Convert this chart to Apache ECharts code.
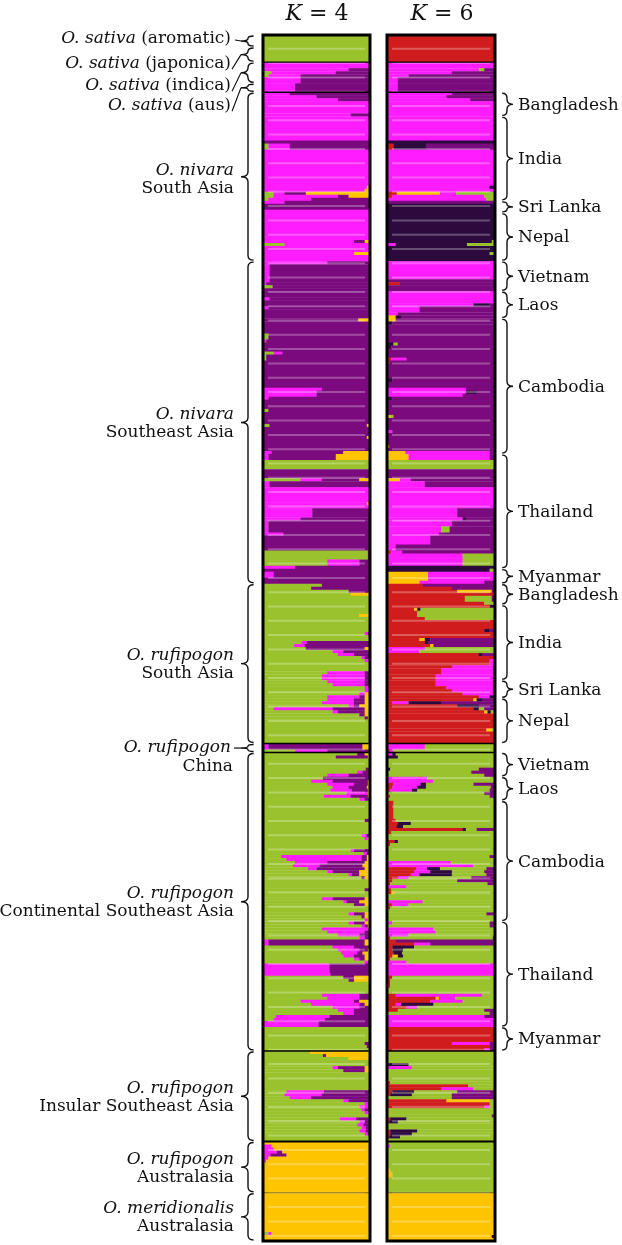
<!DOCTYPE html>
<html><head><meta charset="utf-8">
<script src="https://cdn.jsdelivr.net/npm/echarts@6/dist/echarts.min.js"></script>
<style>html,body{margin:0;padding:0;background:#fff}#c{width:622px;height:1245px}</style>
</head><body><div id="c"></div>
<script>
// ---------------- DATA ----------------
// individuals are indexed 0..400 from top to bottom
const groupLabels = [
 ['{i|O. sativa} (aromatic)'],
 ['{i|O. sativa} (japonica)'],
 ['{i|O. sativa} (indica)'],
 ['{i|O. sativa} (aus)'],
 ['{i|O. nivara}','South Asia'],
 ['{i|O. nivara}','Southeast Asia'],
 ['{i|O. rufipogon}','South Asia'],
 ['{i|O. rufipogon}','China'],
 ['{i|O. rufipogon}','Continental Southeast Asia'],
 ['{i|O. rufipogon}','Insular Southeast Asia'],
 ['{i|O. rufipogon}','Australasia'],
 ['{i|O. meridionalis}','Australasia']
];
const groupBounds = [0,4,9,16,19,75,182,235,238,337,367,384,400];
const countryNames = ['Bangladesh','India','Sri Lanka','Nepal','Vietnam','Laos','Cambodia','Thailand','Myanmar',
                      'Bangladesh','India','Sri Lanka','Nepal','Vietnam','Laos','Cambodia','Thailand','Myanmar'];
const countryStart = [19,27,55,59,75,85,94,139,177,182,189,214,220,238,246,254,294,329];
const countryEnd   = [27,55,59,75,85,94,139,177,182,189,214,220,235,246,254,294,329,337];
const dividers = [9,19,235,238,337,367,384];

// K = 4 rows: [count, green, magenta, purple, yellow]
const k4Sativa = [[4,100,0,0,0],[5,100,0,0,0],
 [2,0,100,0,0],[1,0,80,20,0],[1,8,60,32,0],[1,5,30,65,0],[2,0,35,65,0],
 [3,0,30,70,0]];
const k4NivaraSouth = [
 [1,0,25,75,0],[1,0,50,50,0],[1,0,70,30,0],[4,0,100,0,0],[1,0,82,18,0],
 [8,0,100,0,0],[1,0,0,100,0],[2,5,20,75,0],[12,0,100,0,0],[1,0,97,0,3],[1,0,95,0,5],[1,10,10,20,60],[1,10,60,10,20],[1,5,40,55,0],
 [1,0,20,80,0],[2,0,0,100,0],[1,0,100,0,0],
 [9,0,100,0,0],[1,0,85,10,5],[1,20,80,0,0],[2,0,100,0,0],[1,0,85,0,15],[2,0,100,0,0]];
const k4NivaraSE = [
 [1,0,60,40,0],[6,0,6,94,0],[1,0,3,97,0],[1,9,0,91,0],[1,0,0,100,0],
 [2,0,0,100,0],[1,0,6,94,0],[2,0,0,100,0],[1,0,5,95,0],[3,0,0,100,0],
 [1,0,0,89,11],[4,0,0,100,0],[2,5,0,95,0],[1,0,3,97,0],[3,0,0,100,0],[1,10,8,82,0],[2,3,0,97,0],[9,0,0,100,0],[1,0,55,45,0],[2,0,50,50,0],[1,0,5,95,0],[3,0,0,100,0],[1,5,0,95,0],[4,0,0,100,0],[1,6,0,91,3],[3,0,0,100,0],[1,0,0,97,3],[4,0,0,100,0],[1,0,8,67,25],
 [2,0,5,63,32],[3,100,0,0,0],[3,0,0,100,0],[1,35,20,35,10],[2,0,6,94,0],[5,0,100,0,0],[1,0,97,0,3],[1,0,100,0,0],[3,0,46,54,0],[1,0,35,65,0],[4,0,5,95,0],[1,0,19,81,0],[5,0,0,100,0],[3,98,0,2,0],[2,60,30,10,0],[1,0,30,70,0],
 [1,0,0,100,0],[2,0,10,90,0],[2,0,0,100,0]];
const k4RufiSouth = [
 [1,55,0,45,0],[1,45,0,55,0],[1,80,0,20,0],[1,82,0,0,18],[3,100,0,0,0],
 [3,100,0,0,0],[1,90,0,0,10],[5,100,0,0,0],[1,95,3,2,0],[2,100,0,0,0],[1,36,5,59,0],[1,29,10,61,0],[1,40,0,55,5],[1,65,10,25,0],[1,70,15,15,0],[1,92,3,5,0],[1,95,5,0,0],[3,100,0,0,0],[1,60,35,5,0],[2,55,40,5,0],
 [1,60,35,5,0],[1,65,30,5,0],[2,95,5,0,0],[1,90,5,0,5],[1,60,30,5,5],
 [1,60,25,10,5],[1,55,30,10,5],[1,80,5,5,10],[1,10,55,30,5],[1,65,5,25,5],[1,90,0,5,5],[1,95,0,3,2],[8,100,0,0,0]];
const k4China = [[2,0,5,88,7],[1,30,30,40,0]];
const k4RufiCont = [
 [1,88,0,7,5],[1,68,0,30,2],[3,100,0,0,0],[1,96,0,4,0],[1,88,5,7,0],[1,60,20,20,0],
 [1,56,0,44,0],[1,45,20,33,2],[1,60,25,13,2],[1,65,15,17,3],[1,63,20,15,2],[1,78,20,0,2],[1,57,25,16,2],[1,90,5,5,0],
 [6,100,0,0,0],[1,95,0,5,0],[4,100,0,0,0],[1,92,5,3,0],[1,95,3,0,2],[3,100,0,0,0],[1,82,3,15,0],[1,94,3,3,0],[1,17,75,5,3],[1,22,70,5,3],[1,30,30,35,5],[1,28,25,40,7],[1,42,8,45,5],[1,60,5,25,10],[1,80,3,7,10],[1,92,0,3,5],[3,98,0,0,2],[1,95,0,5,0],[2,100,0,0,0],[1,55,10,30,5],[1,75,3,12,10],[1,85,0,10,5],[2,100,0,0,0],[1,80,5,10,5],[1,92,0,3,5],[1,95,3,0,2],
 [1,80,5,10,5],[1,92,3,3,2],[1,55,45,0,0],[1,60,35,5,0],[1,70,20,10,0],[1,90,5,5,0],[2,0,5,90,5],[1,65,20,15,0],[1,70,20,8,2],[1,73,15,5,7],[1,75,10,10,5],[1,85,5,5,5],[1,95,3,2,0],[3,0,62,38,0],[1,0,63,37,0],[1,75,0,10,15],[1,80,0,5,15],[4,100,0,0,0],[1,55,35,10,0],[1,60,30,10,0],[1,35,50,5,10],[1,45,45,5,5],[1,65,25,10,0],[1,70,15,15,0],[1,75,10,15,0],[1,12,50,38,0],[1,10,48,42,0],[2,0,52,48,0],
 [5,100,0,0,0],[1,95,0,5,0],[1,97,0,3,0],[1,100,0,0,0]];
const k4Insular = [
 [1,44,0,0,56],[1,56,0,3,41],[1,80,0,0,20],[2,100,0,0,0],[1,65,5,25,5],[1,75,0,20,5],[6,100,0,0,0],[1,22,35,43,0],[1,20,35,45,0],[1,25,20,55,0],[1,75,5,20,0],[1,95,3,2,0],[1,90,8,2,0],[1,92,3,5,0],[1,95,5,0,0],[1,100,0,0,0],[1,72,15,13,0],[1,90,5,5,0],[1,88,6,6,0],[1,92,4,4,0],[1,90,6,4,0],[1,95,3,2,0],[2,100,0,0,0]];
const k4Austral = [[1,0,0,0,100],[1,0,8,0,92],[1,0,10,0,90],[1,0,13,5,82],[1,0,7,15,78],[1,0,5,0,95],[1,0,3,0,97],[10,0,0,0,100]];
const k4Merid = [[13,0,0,0,100],[1,5,3,0,92],[2,0,0,0,100]];

// K = 6 rows: [count, red, yellow, magenta, navy, green, purple]
const k6Sativa = [[9,100,0,0,0,0,0],
 [2,0,0,100,0,0,0],[1,0,0,85,0,5,10],[1,0,0,60,0,0,40],[1,0,0,20,0,0,80],[2,0,0,10,0,0,90],
 [3,0,0,10,0,0,90]];
const k6NivaraSouth = [
 [1,0,0,60,0,0,40],[1,0,0,55,0,0,45],[1,0,0,77,0,0,23],[5,0,0,100,0,0,0],
 [8,0,0,100,0,0,0],[1,0,0,0,100,0,0],[2,6,0,0,30,0,64],[12,0,0,100,0,0,0],[1,0,0,95,5,0,0],[1,0,0,100,0,0,0],[1,9,40,15,0,36,0],[1,5,0,85,0,10,0],[1,0,0,92,0,8,0],
 [1,0,0,0,0,0,100],[3,0,0,0,100,0,0],
 [9,0,0,0,100,0,0],[1,0,0,0,97,3,0],[1,0,0,8,66,26,0],[2,0,0,0,100,0,0],[1,0,0,0,95,5,0],[2,0,0,0,100,0,0]];
const k6NivaraSE = [
 [6,0,0,100,0,0,0],[1,0,0,0,0,0,100],[1,12,0,0,0,0,88],[2,0,0,0,0,0,100],
 [4,0,0,100,0,0,0],[1,0,0,80,15,0,5],[2,0,0,30,0,0,70],[1,0,0,10,0,0,90],[1,0,8,0,5,0,87],
 [1,0,8,0,0,0,92],[1,0,0,0,5,0,95],[6,0,0,0,0,0,100],[1,0,0,0,6,4,90],[1,0,0,0,4,0,96],[3,0,0,0,0,0,100],[1,4,0,14,0,0,82],[1,2,0,0,0,0,98],[5,0,0,0,0,0,100],[1,0,0,0,5,0,95],[2,0,0,0,0,0,100],[1,0,0,73,0,0,27],[1,0,0,73,10,0,17],[1,0,0,70,0,0,30],[1,0,0,0,5,0,95],[5,0,0,0,0,0,100],[1,0,3,0,0,3,94],[4,0,0,0,0,0,100],[1,0,0,5,0,0,95],[4,0,0,0,0,0,100],[1,0,2,0,0,0,98],[1,0,0,0,0,0,100],[1,0,17,78,0,0,5],
 [2,0,20,75,0,0,5],[3,0,0,0,0,100,0],[3,0,0,0,0,0,100],[1,0,12,10,0,0,78],[2,0,0,35,0,0,65],[7,0,0,100,0,0,0],[3,0,0,65,0,0,35],[1,0,0,70,3,0,27],[2,0,0,60,0,0,40],[2,0,0,50,0,8,42],[1,0,0,48,0,0,52],[3,0,0,40,0,0,60],[2,0,0,8,0,0,92],[1,4,0,10,0,0,86],[2,0,0,70,0,30,0],[2,0,0,70,0,30,0],[1,0,0,0,100,0,0],
 [1,0,0,0,95,5,0],[3,0,38,62,0,0,0],[1,0,30,60,0,0,10]];
const k6RufiSouth = [
 [1,33,0,0,0,0,67],[1,60,0,0,0,0,40],[1,65,32,0,0,0,3],[1,100,0,0,0,0,0],[2,72,0,0,0,25,3],[1,90,0,0,0,10,0],
 [1,95,0,0,5,0,0],[1,25,3,0,3,69,0],[2,28,0,0,0,72,0],[1,35,0,0,0,65,0],[3,100,0,0,0,0,0],[1,90,0,0,5,0,5],[2,100,0,0,0,0,0],[1,30,5,0,5,0,60],[1,35,0,0,3,0,62],[1,40,3,0,0,0,57],[1,0,0,35,0,65,0],[1,0,0,30,0,70,0],[1,85,0,0,3,0,12],[1,100,0,0,0,0,0],[2,95,0,5,0,0,0],[1,60,0,38,0,0,2],[2,50,0,48,0,0,2],[2,45,0,53,0,0,2],
 [2,45,0,53,0,0,2],[1,55,0,43,0,0,2],[1,60,0,38,0,0,2],[1,70,0,28,0,0,2],[1,85,0,10,5,0,0],
 [1,80,3,0,5,0,12],[1,5,0,15,30,0,50],[1,65,0,0,20,0,15],[1,80,0,0,5,5,10],[1,90,3,0,3,4,0],[5,100,0,0,0,0,0],[1,92,5,0,0,3,0],[4,100,0,0,0,0,0]];
const k6China = [[2,0,0,35,0,65,0],[1,3,0,3,0,94,0]];
const k6RufiCont = [
 [1,0,0,5,3,92,0],[1,0,0,0,10,90,0],[3,0,0,0,0,100,0],[1,0,0,0,3,82,15],[1,0,0,0,0,78,22],[1,0,0,0,0,90,10],
 [1,0,0,37,0,63,0],[1,0,0,43,0,57,0],[1,6,0,25,5,44,20],[1,5,0,23,8,60,4],[1,3,0,20,5,67,5],[1,0,0,0,0,90,10],[1,3,0,0,0,92,5],[1,0,0,0,0,100,0],
 [6,6,0,0,0,94,0],[1,8,0,0,0,92,0],[1,10,0,0,12,78,0],[1,9,0,0,6,85,0],[1,70,0,0,3,10,17],[1,4,0,0,0,96,0],[2,0,0,0,0,100,0],[1,7,0,0,3,90,0],[1,3,0,0,0,97,0],[3,0,0,0,0,100,0],[1,0,0,0,0,95,5],[1,0,0,0,0,100,0],[1,0,0,59,0,41,0],[1,0,0,80,0,20,0],[1,27,0,10,12,43,8],[1,25,0,15,20,30,10],[1,22,0,8,30,32,8],[1,10,0,10,0,58,22],[1,5,0,0,0,60,35],[1,3,0,0,0,90,7],[1,0,0,18,0,82,0],[1,4,0,0,0,96,0],[1,4,3,0,0,93,0],[2,0,0,0,0,100,0],[1,0,0,33,0,67,0],[1,5,0,15,0,80,0],[1,3,0,0,0,97,0],[1,0,0,0,0,100,0],[1,0,0,0,0,92,8],[2,0,0,0,0,100,0],
 [1,0,0,5,0,90,5],[1,0,0,0,0,95,5],[1,0,0,43,0,57,0],[1,0,0,45,0,55,0],[1,0,0,20,0,80,0],[1,3,0,0,0,95,2],[1,8,0,0,0,0,92],[1,25,0,15,0,0,60],[1,5,0,0,20,75,0],[1,5,0,0,10,85,0],[1,6,0,0,8,86,0],[1,5,5,0,5,85,0],[1,3,0,0,0,97,0],[1,0,0,18,0,82,0],[4,0,0,100,0,0,0],[1,5,0,0,0,95,0],[1,3,0,0,0,97,0],[2,3,0,0,0,97,0],[2,0,0,0,0,100,0],[1,8,0,80,0,12,0],[1,45,3,15,0,37,0],[1,40,0,30,0,30,0],[1,8,0,5,30,57,0],[1,18,0,10,0,72,0],[1,10,0,0,0,80,10],[1,0,0,0,0,95,5],[1,0,0,90,0,0,10],[3,0,0,100,0,0,0],
 [5,100,0,0,0,0,0],[1,60,0,35,0,0,5],[1,95,0,0,0,0,5],[1,90,0,5,0,0,5]];
const k6Insular = [
 [4,0,0,0,0,100,0],[1,0,0,0,20,80,0],[1,0,0,23,0,77,0],[4,0,0,0,0,100,0],[1,3,0,0,0,97,0],[1,75,0,0,0,25,0],[1,50,0,30,0,20,0],[1,5,0,0,20,40,35],[1,3,0,0,20,37,40],[1,0,0,0,0,60,40],[1,55,40,0,0,5,0],[1,95,0,0,0,5,0],[1,90,0,5,0,5,0],[2,0,0,0,0,100,0],[1,0,0,0,0,97,3],[1,3,0,0,15,82,0],[1,2,0,0,8,90,0],[2,0,0,0,0,100,0],[1,3,0,0,25,72,0],[1,3,0,0,20,77,0],[1,2,0,0,10,88,0],[1,0,0,0,0,100,0]];
const k6Austral = [[1,0,0,0,0,100,0],[1,0,0,3,0,97,0],[7,0,0,0,0,100,0],[1,0,3,0,0,97,0],[2,0,5,0,0,95,0],[5,0,0,0,0,100,0]];
const k6Merid = [[14,0,100,0,0,0,0],[1,0,97,0,3,0,0],[1,0,100,0,0,0,0]];

// ---------------- STYLE / LAYOUT ----------------
const COL4 = ['#9ac22c','#ff1cff','#7b0a7e','#fec400'];
const COL6 = ['#d11c1d','#fec400','#ff1cff','#2c0a3e','#9ac22c','#7b0a7e'];
const FF = '"DejaVu Serif", serif';
const FS = 17;
const RICH = {i:{fontStyle:'italic', fontFamily:FF, fontSize:FS, fill:'#111'}};
const leftLayout = [
 {dy:-2, conn:'dash'},{dy:8.5, conn:'slash'},{dy:12.5, conn:'slash'},{dy:17.5, conn:'slash'},
 {dy:2},{dy:0},{dy:0},{china:true},{dy:0},{dy:0},{dy:0},{dy:0}];

function build(parts){
  const out=[]; let s=0;
  parts.forEach(a=>a.forEach(r=>{ out.push([s, s+r[0]].concat(r.slice(1))); s+=r[0]; }));
  return out;
}
const data4 = build([k4Sativa,k4NivaraSouth,k4NivaraSE,k4RufiSouth,k4China,k4RufiCont,k4Insular,k4Austral,k4Merid]);
const data6 = build([k6Sativa,k6NivaraSouth,k6NivaraSE,k6RufiSouth,k6China,k6RufiCont,k6Insular,k6Austral,k6Merid]);
const N = groupBounds[groupBounds.length-1];

function barSeries(gi, data, colors){
  return {type:'custom', xAxisIndex:gi, yAxisIndex:gi, data, z:2, silent:true,
    renderItem(params, api){
      const s=api.value(0), e=api.value(1), K=colors.length;
      let tot=0; for(let k=0;k<K;k++) tot+=api.value(2+k);
      const y0=api.coord([0,s])[1], y1=api.coord([0,e])[1];
      let acc=0; const ch=[];
      for(let k=0;k<K;k++){
        const v=api.value(2+k)/tot*100; if(!(v>0)) continue;
        const x0=api.coord([acc,s])[0], x1=api.coord([acc+v,s])[0];
        ch.push({type:'rect', shape:{x:x0, y:y0, width:x1-x0+0.3, height:y1-y0+0.4}, style:{fill:colors[k]}});
        acc+=v;
      }
      return {type:'group', children:ch};
    }};
}
function stripeSeries(gi){
  return {type:'custom', xAxisIndex:gi, yAxisIndex:gi, data:[[0,0]], z:3, silent:true,
    renderItem(params, api){
      const a=api.coord([0,0]), b=api.coord([100,N]); const ch=[];
      for(let y=105-14.3*5; y<b[1]-2; y+=14.3){ if(y<a[1]+3) continue;
        ch.push({type:'rect', shape:{x:a[0]+5, y:y, width:b[0]-a[0]-10, height:2}, style:{fill:'rgba(255,255,255,0.28)'}}); }
      return {type:'group', children:ch};
    }};
}
function dividerSeries(gi){
  return {type:'custom', xAxisIndex:gi, yAxisIndex:gi, data:dividers.map(d=>[d]), z:4, silent:true,
    renderItem(params, api){
      const d=api.value(0); const a=api.coord([0,d]), b=api.coord([100,d]);
      const w = d===367 ? 2.2 : (d===384 ? 1 : 1.4);
      return {type:'line', shape:{x1:a[0], y1:a[1], x2:b[0], y2:b[1]}, style:{stroke: d===384?'rgba(60,40,0,0.6)':'#000', lineWidth:w}};
    }};
}
function frameSeries(gi){
  return {type:'custom', xAxisIndex:gi, yAxisIndex:gi, data:[[0,0]], z:5, silent:true,
    renderItem(params, api){
      const a=api.coord([0,0]), b=api.coord([100,N]);
      return {type:'rect', shape:{x:a[0], y:a[1], width:b[0]-a[0], height:b[1]-a[1]}, style:{fill:'none', stroke:'#000', lineWidth:3}};
    }};
}
function bracePath(xs, y0, y1, dir, w){
  const ym=(y0+y1)/2, r=Math.min(5,(y1-y0)/4);
  const xe=xs-dir*w*0.8, xt=xs+dir*w;
  return `M${xe} ${y0} Q${xs} ${y0} ${xs} ${y0+r} L${xs} ${ym-r} Q${xs} ${ym} ${xt} ${ym} Q${xs} ${ym} ${xs} ${ym+r} L${xs} ${y1-r} Q${xs} ${y1} ${xe} ${y1}`;
}
function txt(x,y,text,align){
  return {type:'text', style:{x, y, text, fill:'#111', fontFamily:FF, fontSize:FS, align, textAlign:align, verticalAlign:'middle', textVerticalAlign:'middle', rich:RICH}};
}
const leftSeries = {type:'custom', xAxisIndex:0, yAxisIndex:0, z:6, silent:true,
  data: groupLabels.map((g,i)=>[groupBounds[i], groupBounds[i+1], i]),
  renderItem(params, api){
    const s=api.value(0), e=api.value(1), i=api.value(2);
    const gx=api.coord([0,s])[0];
    const y0=api.coord([0,s])[1]+1, y1=api.coord([0,e])[1]-1, ym=(y0+y1)/2;
    const xs=gx-15, xt=xs-7;
    const ch=[{type:'path', shape:{pathData:bracePath(xs,y0,y1,-1,7)}, style:{fill:'none', stroke:'#111', lineWidth:1.4}}];
    const L=leftLayout[i], lines=groupLabels[i];
    if(L.china){
      ch.push(txt(xt-10, ym, lines[0], 'right'));
      ch.push(txt(xt-8, ym+19, lines[1], 'right'));
      ch.push({type:'line', shape:{x1:xt-7, y1:ym, x2:xt, y2:ym}, style:{stroke:'#111', lineWidth:1.2}});
    } else if(lines.length===1){
      const ly=ym+L.dy, tr=xt-10;
      ch.push(txt(tr, ly, lines[0], 'right'));
      if(L.conn==='dash') ch.push({type:'line', shape:{x1:tr+4, y1:ly+1, x2:xt, y2:ym}, style:{stroke:'#111', lineWidth:1.2}});
      else ch.push({type:'line', shape:{x1:tr+1, y1:ly+6, x2:xt, y2:ym}, style:{stroke:'#111', lineWidth:1.1}});
    } else {
      const c=ym+L.dy;
      ch.push(txt(xt-7, c-8, lines[0], 'right'));
      ch.push(txt(xt-7, c+10, lines[1], 'right'));
    }
    return {type:'group', children:ch};
  }};
const rightSeries = {type:'custom', xAxisIndex:1, yAxisIndex:1, z:6, silent:true,
  data: countryNames.map((c,i)=>[countryStart[i], countryEnd[i], i]),
  renderItem(params, api){
    const s=api.value(0), e=api.value(1), i=api.value(2);
    const gx=api.coord([100,s])[0];
    const y0=api.coord([0,s])[1]+1, y1=api.coord([0,e])[1]-1, ym=(y0+y1)/2;
    const xs=gx+12;
    return {type:'group', children:[
      {type:'path', shape:{pathData:bracePath(xs,y0,y1,1,6)}, style:{fill:'none', stroke:'#111', lineWidth:1.4}},
      txt(xs+11, ym+1, countryNames[i], 'left')]};
  }};

const chart = echarts.init(document.getElementById('c'), null, {renderer:'canvas'});
chart.setOption({
  animation:false, backgroundColor:'#fff',
  grid:[{left:263, top:35, width:107, height:1206},{left:387, top:35, width:108, height:1206}],
  xAxis:[{type:'value', gridIndex:0, min:0, max:100, show:false},{type:'value', gridIndex:1, min:0, max:100, show:false}],
  yAxis:[{type:'value', gridIndex:0, min:0, max:N, inverse:true, show:false},{type:'value', gridIndex:1, min:0, max:N, inverse:true, show:false}],
  graphic:[
    {type:'text', x:317, y:14, style:{text:'{k|K} = 4', fontFamily:FF, fontSize:22, fill:'#111', align:'center', verticalAlign:'middle', rich:{k:{fontStyle:'italic', fontFamily:FF, fontSize:22, fill:'#111'}}}},
    {type:'text', x:442, y:14, style:{text:'{k|K} = 6', fontFamily:FF, fontSize:22, fill:'#111', align:'center', verticalAlign:'middle', rich:{k:{fontStyle:'italic', fontFamily:FF, fontSize:22, fill:'#111'}}}}
  ],
  series:[barSeries(0,data4,COL4), barSeries(1,data6,COL6), stripeSeries(0), stripeSeries(1),
          dividerSeries(0), dividerSeries(1), frameSeries(0), frameSeries(1), leftSeries, rightSeries]
});
</script></body></html>
